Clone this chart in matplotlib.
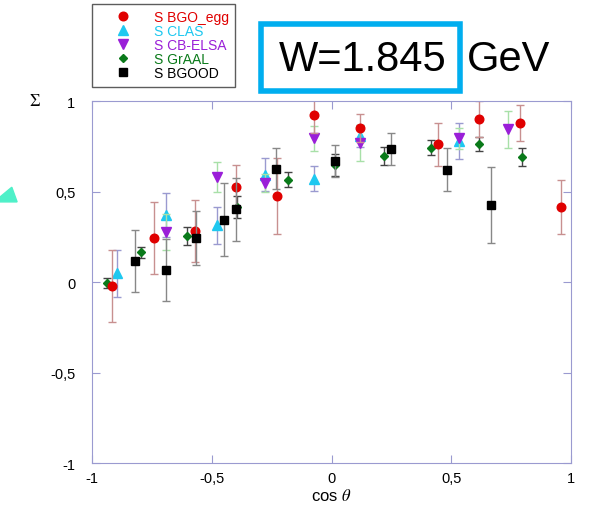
import matplotlib.pyplot as plt
from matplotlib.patches import Rectangle, Polygon
from matplotlib.ticker import FuncFormatter

plt.rcParams['font.family'] = ['Liberation Sans', 'DejaVu Sans']
plt.rcParams['mathtext.fontset'] = 'stix'

# S BGO_egg
bgo_x = [-0.917, -0.742, -0.57, -0.398, -0.226, -0.074, 0.119, 0.443, 0.616, 0.787, 0.958]
bgo_y = [-0.02, 0.244, 0.283, 0.526, 0.474, 0.924, 0.852, 0.761, 0.902, 0.881, 0.415]
bgo_e = [0.2, 0.2, 0.17, 0.12, 0.21, 0.1, 0.08, 0.12, 0.1, 0.1, 0.15]

# S CLAS
clas_x = [-0.894, -0.692, -0.479, -0.28, -0.073, 0.119, 0.532]
clas_y = [0.048, 0.372, 0.313, 0.594, 0.572, 0.807, 0.78]
clas_e = [0.13, 0.12, 0.1, 0.09, 0.07, 0.06, 0.1]

# S CB-ELSA
elsa_x = [-0.692, -0.479, -0.28, -0.073, 0.119, 0.532, 0.735]
elsa_y = [0.276, 0.581, 0.55, 0.794, 0.767, 0.794, 0.844]
elsa_e = [0.1, 0.083, 0.05, 0.07, 0.1, 0.06, 0.1]

# S GrAAL
graal_x = [-0.938, -0.795, -0.602, -0.395, -0.181, 0.015, 0.217, 0.417, 0.616, 0.794]
graal_y = [-0.005, 0.165, 0.257, 0.415, 0.567, 0.646, 0.696, 0.743, 0.763, 0.693]
graal_e = [0.03, 0.03, 0.05, 0.06, 0.04, 0.06, 0.05, 0.04, 0.04, 0.05]

# S BGOOD
bgood_x = [-0.821, -0.692, -0.567, -0.45, -0.399, -0.233, 0.013, 0.25, 0.48, 0.665]
bgood_y = [0.118, 0.068, 0.243, 0.346, 0.402, 0.628, 0.67, 0.735, 0.622, 0.424]
bgood_e = [0.17, 0.17, 0.15, 0.2, 0.175, 0.115, 0.09, 0.09, 0.12, 0.21]

fig = plt.figure(figsize=(5.9, 5.06), dpi=100)
ax = fig.add_axes([0.156, 0.083, 0.812, 0.715])

series = [
    (graal_x, graal_y, graal_e, 'D', '#0a7a1a', '#444444', 4, 'S GrAAL'),
    (clas_x, clas_y, clas_e, '^', '#1ec8f0', '#9a9ad0', 6.5, 'S CLAS'),
    (elsa_x, elsa_y, elsa_e, 'v', '#9a1fd8', '#a8e0a8', 6.5, 'S CB-ELSA'),
    (bgo_x, bgo_y, bgo_e, 'o', '#e00000', '#c89090', 6.2, 'S BGO_egg'),
    (bgood_x, bgood_y, bgood_e, 's', '#000000', '#888888', 6, 'S BGOOD'),
]
handles = {}
for x, y, e, m, c, ec, ms, lab in series:
    ax.errorbar(x, y, yerr=e, fmt='none', ecolor=ec, elinewidth=1, capsize=3)
    h, = ax.plot(x, y, linestyle='none', marker=m, color=c, markersize=ms, label=lab)
    handles[lab] = h

ax.set_xlim(-1, 1)
ax.set_ylim(-1, 1)
ax.set_xticks([-1, -0.5, 0, 0.5, 1])
ax.set_yticks([-1, -0.5, 0, 0.5, 1])
fmt = FuncFormatter(lambda v, p: ('%g' % v).replace('.', ','))
ax.xaxis.set_major_formatter(fmt)
ax.yaxis.set_major_formatter(fmt)
ax.tick_params(direction='in', top=True, right=True, length=6, color='#9a9ad0',
               labelsize=10.5)
ax.tick_params(axis='y', pad=12)
ax.tick_params(axis='x', pad=6)
for s in ax.spines.values():
    s.set_color('#9a9ad0')
ax.set_xlabel(r'cos $\theta$', fontsize=12, labelpad=1)
fig.text(0.06, 0.8, r'$\Sigma$', fontsize=12, ha='center', va='center')

order = ['S BGO_egg', 'S CLAS', 'S CB-ELSA', 'S GrAAL', 'S BGOOD']
leg = fig.legend([handles[k] for k in order], order, loc='upper left',
                 bbox_to_anchor=(0.156, 0.99), borderaxespad=0, fontsize=10,
                 frameon=True, fancybox=False, edgecolor='#333333',
                 handletextpad=0.4, labelspacing=0.0, borderpad=0.45,
                 handlelength=3.6)
leg.get_frame().set_linewidth(1.0)
for t, k in zip(leg.get_texts(), order):
    t.set_color(handles[k].get_color())

fig.text(0.472, 0.882, 'W=1.845', fontsize=30, ha='left', va='center')
fig.text(0.792, 0.882, 'GeV', fontsize=30, ha='left', va='center')
fig.patches.append(Rectangle((0.443, 0.818), 0.337, 0.132, transform=fig.transFigure,
                             fill=False, edgecolor='#00aeef', linewidth=4))
fig.patches.append(Polygon([(-0.01, 0.599), (0.020, 0.628), (0.029, 0.599)],
                           transform=fig.transFigure, color='#4ef0c8'))

fig.savefig('out.png', dpi=100)
